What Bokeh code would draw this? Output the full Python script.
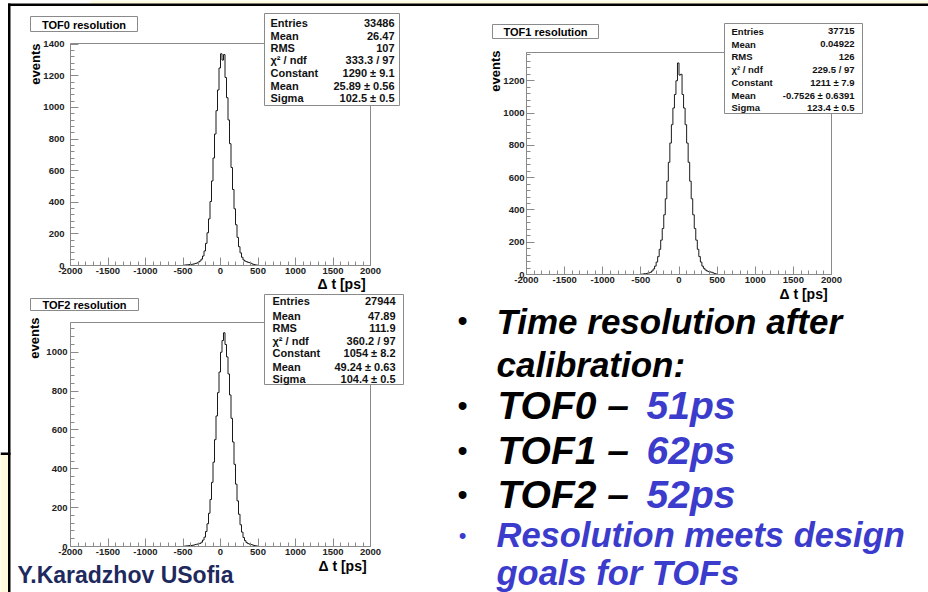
import math
from bokeh.plotting import figure
from bokeh.models import (Range1d, SingleIntervalTicker, Label, BoxAnnotation, GridBox,
                          PrintfTickFormatter)
from bokeh.embed import file_html
from bokeh.resources import INLINE

# ---------------- data ----------------
BIN_WIDTH = 20
BIN_LOW_EDGES = list(range(-500, 500, BIN_WIDTH))  # 50 bins, -500 .. 500 ps

TOF0_COUNTS = [2, 3, 4, 5, 6, 7, 8, 10, 13, 16,
               22, 28, 40, 60, 92, 140, 207, 295, 405, 535,
               680, 832, 980, 1111, 1250, 1340, 1300, 1335, 1190, 1062,
               921, 771, 620, 481, 359, 258, 178, 119, 80, 52,
               35, 28, 24, 20, 18, 14, 9, 6, 4, 2]
TOF1_COUNTS = [2, 3, 5, 6, 8, 10, 14, 22, 34, 52,
               77, 111, 156, 213, 285, 370, 469, 578, 695, 814,
               928, 1031, 1115, 1200, 1310, 1235, 1240, 1115, 1031, 928,
               814, 695, 578, 469, 370, 285, 213, 156, 111, 77,
               52, 38, 28, 22, 18, 16, 14, 10, 6, 3]
TOF2_COUNTS = [2, 2, 3, 4, 5, 5, 6, 8, 10, 12,
               14, 16, 22, 33, 48, 77, 117, 171, 242, 330,
               434, 550, 672, 792, 898, 1000, 1060, 1100, 1040, 976,
               888, 780, 660, 538, 423, 321, 235, 166, 112, 74,
               46, 30, 20, 15, 12, 10, 8, 5, 4, 2]

X_RANGE = (-2000, 2000)
X_TICK_STEP = 500
Y_TICK_STEP = 200
TOF0_YMAX = 1405
TOF1_YMAX = 1375
TOF2_YMAX = 1153

TITLES = ["TOF0 resolution", "TOF1 resolution", "TOF2 resolution"]
X_LABEL = "\u0394 t  [ps]"
Y_LABEL = "events"
STAT_NAMES = ["Entries", "Mean", "RMS", "\u03c7\u00b2 / ndf", "Constant", "Mean", "Sigma"]
TOF0_STATS = ["33486", "26.47", "107", "333.3 / 97", "1290 \u00b1 9.1", "25.89 \u00b1 0.56", "102.5 \u00b1 0.5"]
TOF1_STATS = ["37715", "0.04922", "126", "229.5 / 97", "1211 \u00b1 7.9", "-0.7526 \u00b1 0.6391", "123.4 \u00b1 0.5"]
TOF2_STATS = ["27944", "47.89", "111.9", "360.2 / 97", "1054 \u00b1 8.2", "49.24 \u00b1 0.63", "104.4 \u00b1 0.5"]

BULLET_HEAD = ["Time resolution after", "calibration:"]
RES_NAMES = ["TOF0 \u2013", "TOF1 \u2013", "TOF2 \u2013"]
RES_VALUES = ["51ps", "62ps", "52ps"]
BULLET_TAIL = ["Resolution meets design", "goals for TOFs"]
AUTHOR = "Y.Karadzhov USofia"

# ---------------- styling ----------------
FONT = "Liberation Sans"
GREY = "#8a8a8a"
INK = "#1a1a1a"
BLUE = "#3b3bcc"
NAVY = "#1e2a5e"
YELLOW = "#fffbdc"


def hist_panel(counts, ymax, size, borders, ylab_standoff):
    w, h = size
    l, r, t, b = borders
    p = figure(width=w, height=h, x_range=Range1d(*X_RANGE), y_range=Range1d(0, ymax),
               output_backend="svg", toolbar_location=None, frame_align=False,
               min_border_left=l, min_border_right=r, min_border_top=t, min_border_bottom=b)
    p.grid.visible = False
    p.background_fill_color = "white"
    p.border_fill_color = "white"
    p.outline_line_color = GREY
    p.xaxis.ticker = SingleIntervalTicker(interval=X_TICK_STEP, num_minor_ticks=5)
    p.yaxis.ticker = SingleIntervalTicker(interval=Y_TICK_STEP, num_minor_ticks=5)
    for ax in (p.xaxis[0], p.yaxis[0]):
        ax.formatter = PrintfTickFormatter(format="%d")
        ax.axis_line_color = GREY
        ax.major_tick_line_color = GREY
        ax.minor_tick_line_color = GREY
        ax.major_tick_in = 8
        ax.major_tick_out = 0
        ax.minor_tick_in = 4
        ax.minor_tick_out = 0
        ax.major_label_text_font = FONT
        ax.major_label_text_font_style = "bold"
        ax.major_label_text_font_size = "9.5px"
        ax.major_label_text_color = "#222222"
    p.xaxis.major_label_standoff = 2
    p.yaxis.major_label_standoff = ylab_standoff

    xs = [BIN_LOW_EDGES[0]] + BIN_LOW_EDGES + [BIN_LOW_EDGES[-1] + BIN_WIDTH]
    ys = [0] + list(counts) + [0]
    p.step(xs, ys, mode="after", line_color=INK, line_width=1)
    return p


p0 = hist_panel(TOF0_COUNTS, TOF0_YMAX, (455, 292), (70, 85, 43, 27), 6)
p1 = hist_panel(TOF1_COUNTS, TOF1_YMAX, (473, 305), (71, 97, 52, 31), 2)
p2 = hist_panel(TOF2_COUNTS, TOF2_YMAX, (455, 300), (70, 85, 30, 46), 3)

# ---------------- transparent overlay for the slide texts and boxes ----------------
ov = figure(width=928, height=592, x_range=Range1d(0, 1), y_range=Range1d(0, 1),
            x_axis_type=None, y_axis_type=None, output_backend="svg",
            toolbar_location=None, min_border=0, frame_align=False)
ov.grid.visible = False
ov.outline_line_color = None
ov.background_fill_alpha = 0
ov.border_fill_alpha = 0


def cbox(l, r, t, b, fill, line=None, lw=1):
    ov.add_layout(BoxAnnotation(left=l, right=r, top=t, bottom=b,
                                left_units="canvas", right_units="canvas",
                                top_units="canvas", bottom_units="canvas",
                                fill_color=fill, fill_alpha=1.0,
                                line_color=line, line_width=lw,
                                line_alpha=1.0 if line else 0.0))


def clabel(x, y, text, size, color="black", align="left", style="bold", angle=0.0):
    ov.add_layout(Label(x=x, y=y, x_units="canvas", y_units="canvas", text=text,
                        text_font=FONT, text_font_size=f"{size}px", text_font_style=style,
                        text_color=color, text_align=align, text_baseline="middle",
                        angle=angle))


def base_label(x, baseline, text, size, color="black", style="bold italic"):
    # place a line of text by its baseline (middle anchor sits ~0.35 em above it)
    clabel(x, baseline - 0.35 * size, text, size, color=color, style=style)


# slide decorations
cbox(90, 928, 0, 3, YELLOW)
cbox(7.5, 928, 3, 5.5, "black")
cbox(7.5, 10, 3, 592, "black")
cbox(0, 7.5, 454, 592, YELLOW)
cbox(0, 10, 452, 454.5, "black")


def annotate(title, title_box, stats, stats_box, rows_y, names_x, values_x, stat_font,
             events_xy, dt_xy):
    tl, tr, tt, tb = title_box
    cbox(tl, tr, tt, tb, "white", GREY, 1)
    clabel((tl + tr) / 2, (tt + tb) / 2 + 0.5, title, 11, align="center")
    sl, sr, st, sb = stats_box
    cbox(sl, sr, st, sb, "white", GREY, 1)
    for name, val, yy in zip(STAT_NAMES, stats, rows_y):
        clabel(names_x, yy, name, stat_font, color="#111111", align="left")
        clabel(values_x, yy, val, stat_font, color="#111111", align="right")
    ex, ey = events_xy
    clabel(ex, ey, Y_LABEL, 13, align="right", angle=math.pi / 2)
    dx, dy = dt_xy
    clabel(dx, dy, X_LABEL, 14, align="right")


annotate(TITLES[0], (30, 137, 16, 31), TOF0_STATS, (264, 399, 13, 105),
         [22.5, 35, 47, 59.5, 72.5, 85.5, 97.5], 270, 394, 11, (35, 43), (369, 283))
annotate(TITLES[1], (492, 598, 24, 38), TOF1_STATS, (724, 862, 23, 113),
         [30.7, 43.7, 56, 68.7, 81.7, 95, 106.7], 731, 854, 9.5, (495, 50), (831, 293))
annotate(TITLES[2], (30, 138, 298, 310), TOF2_STATS, (264, 403, 294, 384),
         [300.7, 315, 327.7, 340, 352.7, 366, 378], 272, 395, 11, (34, 317), (370, 565))
base_label(17, 583, AUTHOR, 23, color=NAVY, style="bold")

# bullet text
clabel(462, 320, "\u2022", 29, align="center", style="normal")
base_label(496, 333, BULLET_HEAD[0], 35)
base_label(496, 376, BULLET_HEAD[1], 35)
for i, (yb, yc) in enumerate([(419, 405.6), (464, 450.5), (508, 494)]):
    clabel(462, yc, "\u2022", 29, align="center", style="normal")
    base_label(497, yb, RES_NAMES[i], 39)
    base_label(646, yb, RES_VALUES[i], 39, color=BLUE)
clabel(462, 535, "\u2022", 22, color=BLUE, align="center", style="normal")
base_label(496, 547, BULLET_TAIL[0], 34.5, color=BLUE)
base_label(496, 585, BULLET_TAIL[1], 34.5, color=BLUE)

layout = GridBox(children=[(p0, 0, 0), (p2, 1, 0, 2, 1), (p1, 0, 1, 2, 1), (ov, 0, 0, 3, 2)],
                 rows=["292px", "13px", "287px"], cols=["455px", "473px"], spacing=0)

open("out.html", "w").write(file_html(layout, INLINE))
